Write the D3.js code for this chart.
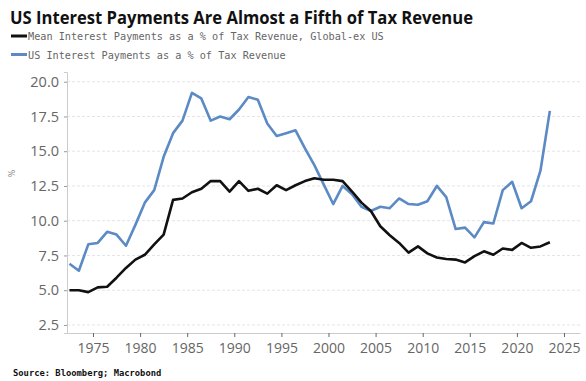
<!DOCTYPE html>
<html>
<head>
<meta charset="utf-8">
<script src="https://cdn.jsdelivr.net/npm/d3@7"></script>
<style>
  body { margin: 0; background: #fff; }
  svg { display: block; }
</style>
</head>
<body>
<div id="chart"></div>
<script>
// years (points sit mid-year)
const years = d3.range(1972, 2024);

const usInterest = [
  6.9, 6.4, 8.3, 8.4, 9.2, 9.0, 8.2, 9.7, 11.3, 12.2,
  14.6, 16.3, 17.2, 19.2, 18.8, 17.2, 17.5, 17.3, 18.0, 18.9,
  18.7, 17.0, 16.1, 16.3, 16.5, 15.2, 14.0, 12.6, 11.2, 12.5,
  11.9, 11.0, 10.7, 11.0, 10.9, 11.6, 11.2, 11.15, 11.4, 12.5,
  11.7, 9.4, 9.5, 8.8, 9.9, 9.8, 12.2, 12.8, 10.9, 11.4,
  13.6, 17.9
];

const globalExUs = [
  5.0, 5.0, 4.86, 5.2, 5.25, 5.9, 6.6, 7.2, 7.55, 8.3,
  9.0, 11.5, 11.6, 12.05, 12.3, 12.85, 12.85, 12.1, 12.85, 12.15,
  12.3, 11.95, 12.55, 12.2, 12.55, 12.85, 13.05, 12.95, 12.95, 12.85,
  12.1, 11.3, 10.7, 9.6, 8.95, 8.4, 7.7, 8.15, 7.65, 7.35,
  7.25, 7.2, 7.0, 7.45, 7.8, 7.55, 8.0, 7.9, 8.4, 8.05,
  8.15, 8.45
];

const yTicks = [2.5, 5.0, 7.5, 10.0, 12.5, 15.0, 17.5, 20.0];
const xTicks = [1975, 1980, 1985, 1990, 1995, 2000, 2005, 2010, 2015, 2020, 2025];

const W = 586, H = 381;
const plot = { left: 67, right: 580, top: 72, bottom: 333 };

const svg = d3.select("#chart").append("svg")
  .attr("width", W)
  .attr("height", H);

const x = d3.scaleLinear()
  .domain([1972.24, 2026.7])
  .range([plot.left, plot.right]);

const y = d3.scaleLinear()
  .domain([1.92, 20.7])
  .range([plot.bottom, plot.top]);

// Title
svg.append("text")
  .attr("x", 10)
  .attr("y", 24)
  .attr("font-family", "Open Sans")
  .attr("font-weight", "bold")
  .attr("font-size", 17.5)
  .attr("fill", "#111")
  .attr("textLength", 463)
  .attr("lengthAdjust", "spacingAndGlyphs")
  .text("US Interest Payments Are Almost a Fifth of Tax Revenue");

// Legend
const legend = [
  { label: "Mean Interest Payments as a % of Tax Revenue, Global-ex US", color: "#111" },
  { label: "US Interest Payments as a % of Tax Revenue", color: "#5b8ac4" }
];
legend.forEach((d, i) => {
  const ly = 36 + i * 18.5;
  svg.append("line")
    .attr("x1", 11).attr("x2", 27)
    .attr("y1", ly).attr("y2", ly)
    .attr("stroke", d.color)
    .attr("stroke-width", 3);
  svg.append("text")
    .attr("x", 28)
    .attr("y", ly + 4)
    .attr("font-family", "DejaVu Sans Mono")
    .attr("font-size", 10.2)
    .attr("fill", "#666")
    .text(d.label);
});

// Grid
svg.append("g")
  .selectAll("line")
  .data(yTicks)
  .join("line")
  .attr("x1", plot.left)
  .attr("x2", plot.right)
  .attr("y1", d => y(d))
  .attr("y2", d => y(d))
  .attr("stroke", "#e4e4e4")
  .attr("stroke-dasharray", "3,2");

// Y axis
const yAxis = svg.append("g")
  .attr("transform", `translate(${plot.left},0)`)
  .call(d3.axisLeft(y).tickValues(yTicks).tickFormat(d3.format(".1f")).tickSize(3).tickPadding(5));
yAxis.select(".domain").attr("stroke", "#ccc");
yAxis.selectAll(".tick line").attr("stroke", "#999");
yAxis.selectAll("text")
  .attr("font-family", "Open Sans")
  .attr("font-size", 14.5)
  .attr("fill", "#666");

// X axis
const xAxis = svg.append("g")
  .attr("transform", `translate(0,${plot.bottom})`)
  .call(d3.axisBottom(x).tickValues(xTicks).tickFormat(d3.format("d")).tickSize(4).tickSizeOuter(0).tickPadding(6));
xAxis.select(".domain").attr("stroke", "#ccc");
xAxis.selectAll(".tick line").attr("stroke", "#666");
xAxis.selectAll("text")
  .attr("font-family", "Open Sans")
  .attr("font-size", 14)
  .attr("fill", "#666");

// % label
svg.append("text")
  .attr("transform", `translate(15,${y(13.4)}) rotate(-90)`)
  .attr("text-anchor", "middle")
  .attr("font-family", "DejaVu Sans")
  .attr("font-size", 8)
  .attr("fill", "#888")
  .text("%");

// Lines
const line = d3.line()
  .x((d, i) => x(years[i] + 0.5))
  .y(d => y(d));

svg.append("path")
  .datum(usInterest)
  .attr("fill", "none")
  .attr("stroke", "#5b8ac4")
  .attr("stroke-width", 2.6)
  .attr("stroke-linejoin", "round")
  .attr("d", line);

svg.append("path")
  .datum(globalExUs)
  .attr("fill", "none")
  .attr("stroke", "#111")
  .attr("stroke-width", 2.6)
  .attr("stroke-linejoin", "round")
  .attr("d", line);

// Source
svg.append("text")
  .attr("x", 13)
  .attr("y", 376)
  .attr("font-family", "DejaVu Sans Mono")
  .attr("font-weight", "bold")
  .attr("font-size", 8.8)
  .attr("fill", "#111")
  .text("Source: Bloomberg; Macrobond");
</script>
</body>
</html>
